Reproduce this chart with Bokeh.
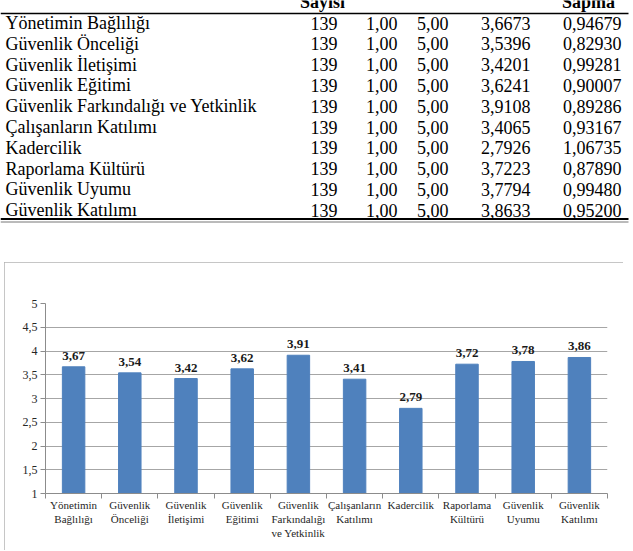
from bokeh.plotting import figure
from bokeh.layouts import column
from bokeh.models import Range1d, FixedTicker, ColumnDataSource
from bokeh.core.properties import value
from bokeh.embed import file_html
from bokeh.resources import INLINE

# ---------------- data ----------------
categories = ["Yönetimin Bağlılığı", "Güvenlik Önceliği", "Güvenlik İletişimi",
              "Güvenlik Eğitimi", "Güvenlik Farkındalığı ve Yetkinlik",
              "Çalışanların Katılımı", "Kadercilik", "Raporlama Kültürü",
              "Güvenlik Uyumu", "Güvenlik Katılımı"]
tick_labels = ["Yönetimin\nBağlılığı", "Güvenlik\nÖnceliği", "Güvenlik\nİletişimi",
               "Güvenlik\nEğitimi", "Güvenlik\nFarkındalığı\nve Yetkinlik",
               "Çalışanların\nKatılımı", "Kadercilik", "Raporlama\nKültürü",
               "Güvenlik\nUyumu", "Güvenlik\nKatılımı"]
n_values = [139, 139, 139, 139, 139, 139, 139, 139, 139, 139]
min_values = [1.00] * 10
max_values = [5.00] * 10
means = [3.6673, 3.5396, 3.4201, 3.6241, 3.9108, 3.4065, 2.7926, 3.7223, 3.7794, 3.8633]
std_devs = [0.94679, 0.82930, 0.99281, 0.90007, 0.89286, 0.93167, 1.06735, 0.87890, 0.99480, 0.95200]
header_labels = ["Sayısı", "Sapma"]
y_ticks = [1, 1.5, 2, 2.5, 3, 3.5, 4, 4.5, 5]


def tr(v, d):
    return f"{v:.{d}f}".replace(".", ",")


FONT_NAME = "Liberation Serif, Times New Roman, DejaVu Serif, serif"
SERIF = value(FONT_NAME)

# ---------------- table ----------------
TW, TH = 633, 262
t = figure(width=TW, height=TH, x_range=Range1d(0, TW), y_range=Range1d(TH, 0),
           x_axis_type=None, y_axis_type=None, toolbar_location=None,
           output_backend="svg", min_border=0, min_border_left=0, min_border_right=0,
           min_border_top=0, min_border_bottom=0, outline_line_color=None,
           frame_align=False)
t.grid.visible = False

row0, row_h = 22.5, 20.8
rows_y = [row0 + i * row_h for i in range(len(categories))]

t.text(x=[5] * len(categories), y=rows_y, text=categories, text_font=SERIF,
       text_font_size="18px", text_align="left", text_baseline="alphabetic", text_color="#000000")

col_right = [337, 397, 448, 530, 621]
col_texts = [[str(v) for v in n_values], [tr(v, 2) for v in min_values],
             [tr(v, 2) for v in max_values], [tr(v, 4) for v in means],
             [tr(v, 5) for v in std_devs]]
for xr, txts in zip(col_right, col_texts):
    t.text(x=[xr] * len(txts), y=rows_y, text=txts, text_font=SERIF,
           text_font_size="18px", text_align="right", text_baseline="alphabetic",
           text_color="#000000")

t.text(x=[322, 588], y=[1.5, 1.5], text=header_labels, text_font=SERIF,
       text_font_size="18px", text_font_style="bold", text_align="center",
       text_baseline="alphabetic", text_color="#000000")

t.segment(x0=[0], y0=[13], x1=[628], y1=[13], line_color="#000000", line_width=1.5)
t.segment(x0=[0], y0=[218.5], x1=[628], y1=[218.5], line_color="#000000", line_width=2)
t.segment(x0=[0], y0=[221.5], x1=[628], y1=[221.5], line_color="#777777", line_width=1)

# ---------------- chart ----------------
centers = [i + 0.5 for i in range(len(categories))]
bounds = [i for i in range(len(categories) + 1)]
labels = [tr(v, 2) for v in means]

src = ColumnDataSource(dict(x=centers, top=means, lab=labels))

p = figure(frame_width=562, frame_height=190, x_range=Range1d(0, len(categories)),
           y_range=Range1d(1, 5), toolbar_location=None, output_backend="svg",
           min_border_left=41, min_border_right=16, min_border_top=41, min_border_bottom=58,
           outline_line_color=None, margin=(0, 0, 0, 4), frame_align=False)
p.styles = {"outline": "1px solid #b3b3b3", "outline-offset": "-1px",
            "clip-path": "inset(0px 0px 1px 0px)"}

p.vbar(x="x", top="top", bottom=1, width=0.4, source=src, fill_color="#4F81BD",
       line_color="#4F81BD")
p.text(x="x", y="top", text="lab", source=src, text_font=SERIF, text_font_size="13px",
       text_font_style="bold", text_align="center", text_baseline="alphabetic",
       y_offset=-11, text_color="#1a1a1a")

p.xgrid.visible = False
p.ygrid.grid_line_color = "#a6a6a6"

xa = p.xaxis[0]
xa.ticker = FixedTicker(ticks=centers, minor_ticks=bounds)
xa.major_label_overrides = {c: l for c, l in zip(centers, tick_labels)}
xa.major_tick_line_color = None
xa.major_tick_in = 0
xa.major_tick_out = 0
xa.minor_tick_in = 0
xa.minor_tick_out = 5
xa.minor_tick_line_color = "#8c8c8c"
xa.axis_line_color = "#8c8c8c"
xa.major_label_text_font = FONT_NAME
xa.major_label_text_font_size = "11px"
xa.major_label_text_color = "#262626"
xa.major_label_standoff = 0
xa.major_label_orientation = "horizontal"

ya = p.yaxis[0]
ya.ticker = FixedTicker(ticks=y_ticks)
ya.major_label_overrides = {v: (str(int(v)) if v == int(v) else tr(v, 1)) for v in y_ticks}
ya.major_tick_in = 0
ya.major_tick_out = 5
ya.major_tick_line_color = "#8c8c8c"
ya.minor_tick_line_color = None
ya.axis_line_color = "#8c8c8c"
ya.major_label_text_font = FONT_NAME
ya.major_label_text_font_size = "12px"
ya.major_label_text_color = "#262626"
ya.major_label_standoff = 3

layout = column(t, p, spacing=0)
open("out.html", "w").write(file_html(layout, INLINE))
